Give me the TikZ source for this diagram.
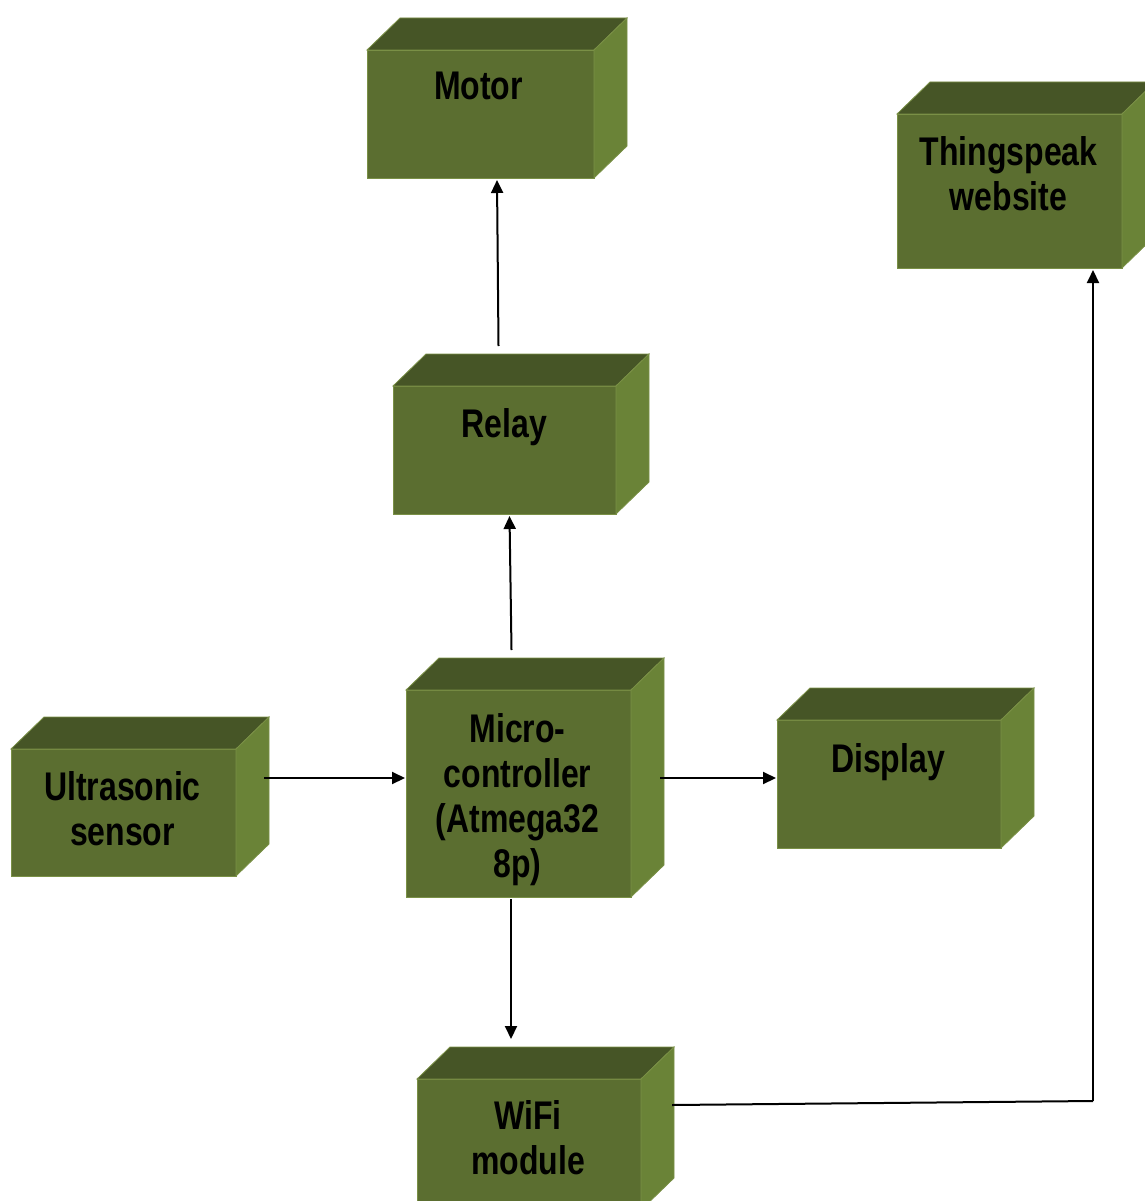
\documentclass[tikz,border=0pt]{standalone}
\usepackage{fontspec}
\newfontfamily\lab{Liberation Sans}[FakeStretch=0.8]
\usetikzlibrary{calc,arrows.meta}
\definecolor{frontc}{HTML}{5B6E30}
\definecolor{topc}{HTML}{465526}
\definecolor{sidec}{HTML}{6A8337}
\definecolor{edgec}{HTML}{7A9046}
\tikzset{
  front/.style={rectangle, fill=frontc, draw=edgec, line width=0.8pt, inner sep=0pt, outer sep=0pt, anchor=north west},
  topface/.style={fill=topc, draw=edgec, line width=0.8pt},
  sideface/.style={fill=sidec, draw=edgec, line width=0.8pt},
  lbl/.style={anchor=north, inner sep=0pt, align=center, font=\lab\bfseries\fontsize{40}{45}\selectfont, text=black},
  arr/.style={line width=2pt, -{Triangle[length=13pt,width=12pt]}},
}
\begin{document}
\begin{tikzpicture}[x=1pt,y=-1pt]
\useasboundingbox (0,0) rectangle (1144,1201);
% front faces
\node[front, minimum width=227pt, minimum height=128pt] (motor) at (367,50) {};
\node[front, minimum width=225pt, minimum height=154pt] (thing) at (897,114) {};
\node[front, minimum width=223pt, minimum height=128pt] (relay) at (393,386) {};
\node[front, minimum width=225pt, minimum height=127pt] (ultra) at (11,749) {};
\node[front, minimum width=225pt, minimum height=207pt] (micro) at (406,690) {};
\node[front, minimum width=224pt, minimum height=128pt] (display) at (777,720) {};
\node[front, minimum width=224pt, minimum height=131pt] (wifi) at (417,1079) {};
% 3D faces
\foreach \n in {motor,thing,relay,ultra,micro,display,wifi}{
  \filldraw[topface] (\n.north west) -- ($(\n.north west)+(33,-32)$) -- ($(\n.north east)+(33,-32)$) -- (\n.north east) -- cycle;
  \filldraw[sideface] (\n.north east) -- ($(\n.north east)+(33,-32)$) -- ($(\n.south east)+(33,-32)$) -- (\n.south east) -- cycle;
}
% labels
\node[lbl] (motorl) at ($(motor.north)+(-2,22)$) {Motor};
\node[lbl] (thingl) at ($(thing.north)+(-1,22)$) {Thingspeak\\website};
\node[lbl] (relayl) at ($(relay.north)+(0,22)$) {Relay};
\node[lbl] (ultral) at ($(ultra.north)+(-1,22)$) {Ultrasonic\\sensor};
\node[lbl] (microl) at ($(micro.north)+(-1,23)$) {Micro-\\controller\\(Atmega32\\8p)};
\node[lbl] (displayl) at ($(display.north)+(-1,23)$) {Display};
\node[lbl] (wifil) at ($(wifi.north)+(-1,21)$) {WiFi\\module};
% connectors
\draw[arr] ($(relay.north)+(-6,-40)$) -- ($(motor.south)+(16.5,2)$);
\draw[arr] ($(micro.north)+(-7,-40)$) -- ($(relay.south)+(5,2)$);
\draw[arr] ($(ultra.east)+(28,-34.5)$) -- ($(micro.west)+(-1,-15.5)$);
\draw[arr] ($(micro.east)+(29,-15.5)$) -- ($(display.west)+(-1,-6)$);
\draw[arr] ($(micro.south)+(-7.5,2)$) -- ($(wifi.north)+(-18,-40)$);
\coordinate (bend) at (1093,1101);
\draw[line width=2pt] ($(wifi.east)+(31,-39.5)$) -- (bend);
\draw[arr] (bend) -- ($(thing.south)+(83.5,2)$);
\end{tikzpicture}
\end{document}
